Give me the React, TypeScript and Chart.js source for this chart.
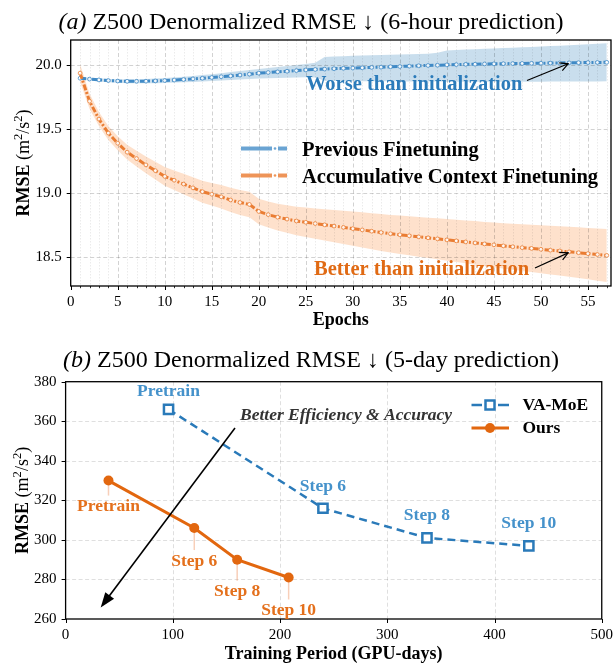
import React, { useEffect, useRef } from "react";
import { Chart, registerables } from "chart.js";

Chart.register(...registerables);

const SERIF = "'Liberation Serif', 'Times New Roman', Times, serif";

// ---------- (a) Z500 6-hour prediction: RMSE per finetuning epoch ----------
const EPOCHS = [
  1, 2, 3, 4, 5, 6, 7, 8, 9, 10, 11, 12, 13, 14, 15, 16, 17, 18, 19, 20,
  21, 22, 23, 24, 25, 26, 27, 28, 29, 30, 31, 32, 33, 34, 35, 36, 37, 38, 39, 40,
  41, 42, 43, 44, 45, 46, 47, 48, 49, 50, 51, 52, 53, 54, 55, 56, 57,
];

const PREV_MEAN = [
  19.9, 19.893, 19.887, 19.882, 19.878, 19.876, 19.876, 19.877, 19.879, 19.882,
  19.886, 19.89, 19.895, 19.9, 19.906, 19.912, 19.918, 19.925, 19.932, 19.94,
  19.945, 19.95, 19.955, 19.96, 19.965, 19.969, 19.972, 19.975, 19.978, 19.98,
  19.982, 19.985, 19.987, 19.99, 19.992, 19.995, 19.998, 20.0, 20.002, 20.005,
  20.007, 20.009, 20.01, 20.012, 20.013, 20.014, 20.015, 20.016, 20.017, 20.018,
  20.019, 20.02, 20.021, 20.022, 20.023, 20.024, 20.025,
];

const PREV_UPPER = [
  19.91, 19.904, 19.899, 19.895, 19.892, 19.891, 19.892, 19.894, 19.897, 19.901,
  19.906, 19.912, 19.918, 19.925, 19.932, 19.94, 19.948, 19.956, 19.964, 19.972,
  19.98, 19.988, 19.996, 20.004, 20.012, 20.022, 20.066, 20.07, 20.073, 20.076,
  20.078, 20.08, 20.082, 20.084, 20.086, 20.088, 20.09, 20.093, 20.1, 20.118,
  20.122, 20.125, 20.128, 20.131, 20.134, 20.137, 20.14, 20.143, 20.146, 20.149,
  20.152, 20.155, 20.158, 20.162, 20.166, 20.17, 20.174,
];

const PREV_LOWER = [
  19.89, 19.882, 19.875, 19.869, 19.864, 19.861, 19.86, 19.86, 19.861, 19.863,
  19.866, 19.868, 19.871, 19.874, 19.878, 19.882, 19.886, 19.89, 19.894, 19.898,
  19.9, 19.902, 19.904, 19.906, 19.908, 19.906, 19.88, 19.879, 19.878, 19.877,
  19.877, 19.876, 19.876, 19.876, 19.875, 19.875, 19.875, 19.875, 19.874, 19.872,
  19.872, 19.872, 19.872, 19.872, 19.872, 19.872, 19.873, 19.873, 19.873, 19.873,
  19.874, 19.874, 19.874, 19.875, 19.875, 19.875, 19.876,
];

const ACC_MEAN = [
  19.94, 19.72, 19.58, 19.47, 19.39, 19.32, 19.27, 19.22, 19.175, 19.13,
  19.1, 19.07, 19.04, 19.01, 18.99, 18.97, 18.945, 18.925, 18.91, 18.855,
  18.83, 18.81, 18.795, 18.78, 18.77, 18.76, 18.75, 18.74, 18.73, 18.72,
  18.71, 18.7, 18.69, 18.68, 18.672, 18.664, 18.656, 18.648, 18.64, 18.632,
  18.624, 18.616, 18.608, 18.6, 18.593, 18.585, 18.578, 18.571, 18.565, 18.558,
  18.551, 18.545, 18.538, 18.531, 18.524, 18.517, 18.51,
];

const ACC_SPREAD = [
  0.07, 0.06, 0.055, 0.055, 0.055, 0.058, 0.062, 0.066, 0.07, 0.074,
  0.077, 0.08, 0.083, 0.086, 0.089, 0.092, 0.095, 0.098, 0.1, 0.1,
  0.102, 0.105, 0.108, 0.111, 0.115, 0.119, 0.123, 0.127, 0.131, 0.134,
  0.138, 0.141, 0.145, 0.148, 0.151, 0.153, 0.156, 0.158, 0.161, 0.163,
  0.166, 0.168, 0.171, 0.173, 0.176, 0.178, 0.181, 0.183, 0.186, 0.188,
  0.191, 0.193, 0.196, 0.199, 0.202, 0.205, 0.208,
];

const TOP_X_TICKS = [0, 5, 10, 15, 20, 25, 30, 35, 40, 45, 50, 55];
const TOP_Y_TICKS = [18.5, 19.0, 19.5, 20.0];
const TOP_SERIES = ["Previous Finetuning", "Accumulative Context Finetuning"];

// ---------- (b) Z500 5-day prediction vs. training cost ----------
const STAGES = ["Pretrain", "Step 6", "Step 8", "Step 10"];
const VAMOE_GPU_DAYS = [96, 240, 337, 432];
const VAMOE_RMSE = [366, 316, 301, 297];
const OURS_GPU_DAYS = [40, 120, 160, 208];
const OURS_RMSE = [330, 306, 290, 281];
const BOTTOM_X_TICKS = [0, 100, 200, 300, 400, 500];
const BOTTOM_Y_TICKS = [260, 280, 300, 320, 340, 360, 380];
const BOTTOM_SERIES = ["VA-MoE", "Ours"];

// ---------- colours ----------
const BLUE_LINE = "#408ac6";
const BLUE_BAND = "rgba(31,119,180,0.24)";
const ORANGE_LINE = "#ea7d33";
const ORANGE_BAND = "rgba(250,130,40,0.24)";
const BLUE_TEXT = "#2b7bba";
const ORANGE_TEXT = "#e06a14";
const VAMOE_COLOR = "#2a7ab9";
const VAMOE_LABEL = "#4592cb";
const OURS_COLOR = "#e2670f";
const OURS_LABEL = "#e4701c";

type Ctx = CanvasRenderingContext2D;

function fnt(size: number, weight = "normal", style = "normal") {
  return `${style} ${weight} ${size}px ${SERIF}`;
}

function seg(ctx: Ctx, x1: number, y1: number, x2: number, y2: number) {
  ctx.beginPath();
  ctx.moveTo(x1, y1);
  ctx.lineTo(x2, y2);
  ctx.stroke();
}

function openArrow(ctx: Ctx, x1: number, y1: number, x2: number, y2: number, head = 9) {
  seg(ctx, x1, y1, x2, y2);
  const ang = Math.atan2(y2 - y1, x2 - x1);
  const a = Math.PI / 6.5;
  ctx.beginPath();
  ctx.moveTo(x2 - head * Math.cos(ang - a), y2 - head * Math.sin(ang - a));
  ctx.lineTo(x2, y2);
  ctx.lineTo(x2 - head * Math.cos(ang + a), y2 - head * Math.sin(ang + a));
  ctx.stroke();
}

function filledArrow(ctx: Ctx, x1: number, y1: number, x2: number, y2: number, len: number, half: number) {
  const ang = Math.atan2(y2 - y1, x2 - x1);
  const bx = x2 - len * Math.cos(ang);
  const by = y2 - len * Math.sin(ang);
  seg(ctx, x1, y1, bx + 2 * Math.cos(ang), by + 2 * Math.sin(ang));
  ctx.beginPath();
  ctx.moveTo(x2, y2);
  ctx.lineTo(bx - half * Math.sin(ang), by + half * Math.cos(ang));
  ctx.lineTo(bx + half * Math.sin(ang), by - half * Math.cos(ang));
  ctx.closePath();
  ctx.fill();
}

function drawTitle(ctx: Ctx, tag: string, rest: string, cx: number, baseline: number) {
  const size = 24;
  ctx.save();
  ctx.fillStyle = "#000";
  ctx.textBaseline = "alphabetic";
  ctx.textAlign = "left";
  ctx.font = fnt(size, "normal", "italic");
  const w1 = ctx.measureText(tag).width;
  ctx.font = fnt(size);
  const w2 = ctx.measureText(rest).width;
  const x0 = cx - (w1 + w2) / 2;
  ctx.font = fnt(size, "normal", "italic");
  ctx.fillText(tag, x0, baseline);
  ctx.font = fnt(size);
  ctx.fillText(rest, x0 + w1, baseline);
  ctx.restore();
}

function drawRmseLabel(ctx: Ctx, cx: number, cy: number, size: number) {
  const parts = [
    { t: "RMSE", f: fnt(size, "bold"), dy: 0 },
    { t: " (m", f: fnt(size), dy: 0 },
    { t: "2", f: fnt(size * 0.7), dy: -size * 0.38 },
    { t: "/s", f: fnt(size), dy: 0 },
    { t: "2", f: fnt(size * 0.7), dy: -size * 0.38 },
    { t: ")", f: fnt(size), dy: 0 },
  ];
  ctx.save();
  let total = 0;
  const widths = parts.map((p) => {
    ctx.font = p.f;
    const w = ctx.measureText(p.t).width;
    total += w;
    return w;
  });
  ctx.translate(cx, cy);
  ctx.rotate(-Math.PI / 2);
  ctx.fillStyle = "#000";
  ctx.textBaseline = "alphabetic";
  ctx.textAlign = "left";
  let x = -total / 2;
  parts.forEach((p, i) => {
    ctx.font = p.f;
    ctx.fillText(p.t, x, size * 0.33 + p.dy);
    x += widths[i];
  });
  ctx.restore();
}

function drawBox(chart: Chart) {
  const { ctx, chartArea: a } = chart;
  ctx.save();
  ctx.strokeStyle = "#000";
  ctx.lineWidth = 1.3;
  ctx.setLineDash([]);
  ctx.strokeRect(a.left, a.top, a.right - a.left, a.bottom - a.top);
  ctx.restore();
}

function drawMajorTicks(chart: Chart, xs: number[], ys: number[]) {
  const { ctx, chartArea: a, scales } = chart;
  ctx.save();
  ctx.strokeStyle = "#000";
  ctx.lineWidth = 1;
  ctx.setLineDash([]);
  xs.forEach((v) => {
    const px = Math.round(scales.x.getPixelForValue(v)) + 0.5;
    seg(ctx, px, a.bottom, px, a.bottom + 4);
  });
  ys.forEach((v) => {
    const py = Math.round(scales.y.getPixelForValue(v)) + 0.5;
    seg(ctx, a.left - 4, py, a.left, py);
  });
  ctx.restore();
}

function drawGrid(chart: Chart, xs: number[], ys: number[], color: string) {
  const { ctx, chartArea: a, scales } = chart;
  ctx.save();
  ctx.strokeStyle = color;
  ctx.lineWidth = 0.9;
  ctx.setLineDash([4, 2.5]);
  xs.forEach((v) => {
    const px = Math.round(scales.x.getPixelForValue(v)) + 0.5;
    if (px > a.left + 1 && px < a.right - 1) seg(ctx, px, a.top, px, a.bottom);
  });
  ys.forEach((v) => {
    const py = Math.round(scales.y.getPixelForValue(v)) + 0.5;
    if (py > a.top + 1 && py < a.bottom - 1) seg(ctx, a.left, py, a.right, py);
  });
  ctx.restore();
}

const tickFont = { family: SERIF, size: 15 };

// ---------- panel (a) decorations ----------
const panelA = {
  id: "panelA",
  beforeDatasetsDraw(chart: Chart) {
    const { ctx, chartArea: a, scales } = chart;
    ctx.save();
    ctx.strokeStyle = "rgba(0,0,0,0.1)";
    ctx.lineWidth = 0.8;
    ctx.setLineDash([1.5, 1.5]);
    EPOCHS.forEach((e) => {
      if (TOP_X_TICKS.includes(e)) return;
      const px = Math.round(scales.x.getPixelForValue(e)) + 0.5;
      seg(ctx, px, a.top, px, a.bottom);
    });
    ctx.restore();
    drawGrid(chart, TOP_X_TICKS, TOP_Y_TICKS, "rgba(0,0,0,0.2)");
  },
  afterDraw(chart: Chart) {
    const { ctx, chartArea: a, scales } = chart;
    drawBox(chart);
    drawMajorTicks(chart, TOP_X_TICKS, TOP_Y_TICKS);
    // minor ticks at every epoch
    ctx.save();
    ctx.strokeStyle = "#000";
    ctx.lineWidth = 0.8;
    EPOCHS.forEach((e) => {
      if (TOP_X_TICKS.includes(e)) return;
      const px = Math.round(scales.x.getPixelForValue(e)) + 0.5;
      seg(ctx, px, a.bottom, px, a.bottom + 2.2);
    });
    ctx.restore();

    drawTitle(ctx, "(a)", " Z500 Denormalized RMSE \u2193 (6-hour prediction)", 311, 28.5);
    drawRmseLabel(ctx, 23, (a.top + a.bottom) / 2, 18);

    ctx.save();
    ctx.fillStyle = "#000";
    ctx.font = fnt(18, "bold");
    ctx.textAlign = "center";
    ctx.textBaseline = "alphabetic";
    ctx.fillText("Epochs", (a.left + a.right) / 2, 325);

    // legend
    const rows = [
      { y: 148.5, color: "rgba(64,138,198,0.78)", text: TOP_SERIES[0] },
      { y: 175.5, color: "rgba(234,125,51,0.82)", text: TOP_SERIES[1] },
    ];
    rows.forEach((r) => {
      ctx.strokeStyle = r.color;
      ctx.lineWidth = 4;
      ctx.setLineDash([]);
      seg(ctx, 241, r.y, 272, r.y);
      seg(ctx, 278, r.y, 287, r.y);
      ctx.fillStyle = r.color;
      ctx.beginPath();
      ctx.arc(275, r.y, 1.3, 0, Math.PI * 2);
      ctx.fill();
      ctx.fillStyle = "#000";
      ctx.font = fnt(20.5, "bold");
      ctx.textAlign = "left";
      ctx.fillText(r.text, 302, r.y + 7);
    });

    // annotations anchored at epoch 53
    const tipX = scales.x.getPixelForValue(EPOCHS[52]);
    const blueTipY = scales.y.getPixelForValue(PREV_MEAN[52]) + 1;
    const orangeTipY = scales.y.getPixelForValue(ACC_MEAN[52]) + 1;

    ctx.font = fnt(20.5, "bold");
    ctx.textAlign = "left";
    ctx.fillStyle = BLUE_TEXT;
    ctx.fillText("Worse than initialization", 306, 89.5);
    ctx.fillStyle = ORANGE_TEXT;
    ctx.fillText("Better than initialization", 314, 275);

    ctx.strokeStyle = "#000";
    ctx.lineWidth = 1.2;
    openArrow(ctx, 527, 80.5, tipX - 1, blueTipY, 9);
    openArrow(ctx, 535, 268, tipX - 1, orangeTipY, 9);
    ctx.restore();
  },
};

// ---------- panel (b) decorations ----------
const BLUE_LABEL_DY = [-18, -22, -22, -22];
const ORANGE_LABEL_DY = [26, 33, 32, 33];

const panelB = {
  id: "panelB",
  beforeDatasetsDraw(chart: Chart) {
    const { ctx, scales } = chart;
    drawGrid(chart, BOTTOM_X_TICKS, BOTTOM_Y_TICKS, "rgba(0,0,0,0.14)");
    // connectors from our points down to their stage labels
    ctx.save();
    ctx.strokeStyle = "rgba(236,130,70,0.38)";
    ctx.lineWidth = 1.5;
    OURS_GPU_DAYS.forEach((d, i) => {
      const px = scales.x.getPixelForValue(d);
      const py = scales.y.getPixelForValue(OURS_RMSE[i]);
      seg(ctx, px, py, px, py + ORANGE_LABEL_DY[i] - 11);
    });
    ctx.restore();
  },
  afterDraw(chart: Chart) {
    const { ctx, chartArea: a, scales } = chart;
    drawBox(chart);
    drawMajorTicks(chart, BOTTOM_X_TICKS, BOTTOM_Y_TICKS);
    drawTitle(ctx, "(b)", " Z500 Denormalized RMSE \u2193 (5-day prediction)", 311, 37);
    drawRmseLabel(ctx, 22, (a.top + a.bottom) / 2, 18);

    ctx.save();
    ctx.fillStyle = "#000";
    ctx.font = fnt(18, "bold");
    ctx.textAlign = "center";
    ctx.textBaseline = "alphabetic";
    ctx.fillText("Training Period (GPU-days)", (a.left + a.right) / 2, 329);

    // stage labels
    ctx.font = fnt(17.5, "bold");
    ctx.textBaseline = "middle";
    STAGES.forEach((s, i) => {
      const bx = scales.x.getPixelForValue(VAMOE_GPU_DAYS[i]);
      const by = scales.y.getPixelForValue(VAMOE_RMSE[i]);
      ctx.fillStyle = VAMOE_LABEL;
      ctx.fillText(s, bx, by + BLUE_LABEL_DY[i]);
      const ox = scales.x.getPixelForValue(OURS_GPU_DAYS[i]);
      const oy = scales.y.getPixelForValue(OURS_RMSE[i]);
      ctx.fillStyle = OURS_LABEL;
      ctx.fillText(s, ox, oy + ORANGE_LABEL_DY[i]);
    });

    // trend arrow
    ctx.strokeStyle = "#000";
    ctx.fillStyle = "#000";
    ctx.lineWidth = 1.6;
    filledArrow(ctx, 235, 98, 100.7, 277.5, 15, 5.5);
    ctx.fillStyle = "#333";
    ctx.font = fnt(17.5, "bold", "italic");
    ctx.textAlign = "left";
    ctx.textBaseline = "alphabetic";
    ctx.fillText("Better Efficiency & Accuracy", 240, 89.5);

    // legend
    const ly = [75, 98];
    ctx.lineWidth = 2.5;
    ctx.strokeStyle = VAMOE_COLOR;
    seg(ctx, 471.5, ly[0], 482, ly[0]);
    seg(ctx, 498, ly[0], 509, ly[0]);
    ctx.fillStyle = "#fff";
    ctx.fillRect(485.5, ly[0] - 4.5, 9, 9);
    ctx.strokeRect(485.5, ly[0] - 4.5, 9, 9);
    ctx.strokeStyle = OURS_COLOR;
    ctx.lineWidth = 3;
    seg(ctx, 471.5, ly[1], 509, ly[1]);
    ctx.fillStyle = OURS_COLOR;
    ctx.beginPath();
    ctx.arc(490, ly[1], 5, 0, Math.PI * 2);
    ctx.fill();
    ctx.fillStyle = "#000";
    ctx.font = fnt(17.5, "bold");
    ctx.textBaseline = "middle";
    ctx.fillText(BOTTOM_SERIES[0], 522.5, ly[0]);
    ctx.fillText(BOTTOM_SERIES[1], 522.5, ly[1]);
    ctx.restore();
  },
};

function pts(xs: number[], ys: number[]) {
  return ys.map((y, i) => ({ x: xs[i], y }));
}

function topConfig(): any {
  const accUpper = ACC_MEAN.map((m, i) => m + ACC_SPREAD[i]);
  const accLower = ACC_MEAN.map((m, i) => m - ACC_SPREAD[i]);
  const band = (vals: number[], fill: any, color: string) => ({
    data: pts(EPOCHS, vals),
    borderWidth: 0,
    borderColor: "rgba(0,0,0,0)",
    pointRadius: 0,
    fill,
    backgroundColor: color,
    order: 5,
  });
  const line = (label: string, vals: number[], color: string, order: number) => ({
    label,
    data: pts(EPOCHS, vals),
    borderColor: color,
    borderWidth: 3,
    borderDash: [6, 2, 2, 2],
    pointRadius: 1.9,
    pointBackgroundColor: "rgba(255,255,255,0.9)",
    pointBorderColor: color,
    pointBorderWidth: 0.8,
    fill: false,
    tension: 0,
    order,
  });
  return {
    type: "line",
    data: {
      datasets: [
        band(PREV_UPPER, "+1", BLUE_BAND),
        band(PREV_LOWER, false, BLUE_BAND),
        band(accUpper, "+1", ORANGE_BAND),
        band(accLower, false, ORANGE_BAND),
        line(TOP_SERIES[0], PREV_MEAN, BLUE_LINE, 1),
        line(TOP_SERIES[1], ACC_MEAN, ORANGE_LINE, 0),
      ],
    },
    options: {
      responsive: false,
      animation: false,
      events: [],
      layout: { padding: { top: 40, right: 5, left: 0, bottom: 0 } },
      plugins: {
        legend: { display: false },
        tooltip: { enabled: false },
        title: { display: false },
        filler: { drawTime: "beforeDatasetsDraw" },
      },
      scales: {
        x: {
          type: "linear",
          min: 0,
          max: 57.45,
          afterBuildTicks: (s: any) => {
            s.ticks = TOP_X_TICKS.map((value) => ({ value }));
          },
          afterFit: (s: any) => {
            s.height = 44;
          },
          ticks: { font: tickFont, color: "#000", padding: 3, maxRotation: 0, autoSkip: false, callback: (v: any) => String(v) },
          grid: { display: false, drawTicks: true, tickLength: 4 },
          border: { display: false },
        },
        y: {
          type: "linear",
          min: 18.27,
          max: 20.2,
          afterBuildTicks: (s: any) => {
            s.ticks = TOP_Y_TICKS.map((value) => ({ value }));
          },
          afterFit: (s: any) => {
            s.width = 70.7;
          },
          ticks: { font: tickFont, color: "#000", padding: 5, callback: (v: any) => Number(v).toFixed(1) },
          grid: { display: false, drawTicks: true, tickLength: 4 },
          border: { display: false },
        },
      },
    },
    plugins: [panelA],
  };
}

function bottomConfig(): any {
  return {
    type: "line",
    data: {
      datasets: [
        {
          label: BOTTOM_SERIES[0],
          data: pts(VAMOE_GPU_DAYS, VAMOE_RMSE),
          borderColor: VAMOE_COLOR,
          borderWidth: 2.5,
          borderDash: [8, 5],
          pointStyle: "rect",
          pointRadius: 6.5,
          pointBorderWidth: 2.5,
          pointBackgroundColor: "#fff",
          pointBorderColor: VAMOE_COLOR,
          fill: false,
          tension: 0,
        },
        {
          label: BOTTOM_SERIES[1],
          data: pts(OURS_GPU_DAYS, OURS_RMSE),
          borderColor: OURS_COLOR,
          borderWidth: 3,
          pointStyle: "circle",
          pointRadius: 5,
          pointBorderWidth: 0,
          pointBackgroundColor: OURS_COLOR,
          pointBorderColor: OURS_COLOR,
          fill: false,
          tension: 0,
        },
      ],
    },
    options: {
      responsive: false,
      animation: false,
      events: [],
      layout: { padding: { top: 51.7, right: 12, left: 0, bottom: 0 } },
      plugins: {
        legend: { display: false },
        tooltip: { enabled: false },
        title: { display: false },
      },
      scales: {
        x: {
          type: "linear",
          min: 0,
          max: 500,
          afterBuildTicks: (s: any) => {
            s.ticks = BOTTOM_X_TICKS.map((value) => ({ value }));
          },
          afterFit: (s: any) => {
            s.height = 44;
          },
          ticks: { font: tickFont, color: "#000", padding: 3, maxRotation: 0, autoSkip: false, callback: (v: any) => String(v) },
          grid: { display: false, drawTicks: true, tickLength: 4 },
          border: { display: false },
        },
        y: {
          type: "linear",
          min: 260,
          max: 380,
          afterBuildTicks: (s: any) => {
            s.ticks = BOTTOM_Y_TICKS.map((value) => ({ value }));
          },
          afterFit: (s: any) => {
            s.width = 65.6;
          },
          ticks: { font: tickFont, color: "#000", padding: 5, callback: (v: any) => String(v) },
          grid: { display: false, drawTicks: true, tickLength: 4 },
          border: { display: false },
        },
      },
    },
    plugins: [panelB],
  };
}

export default function App() {
  const topRef = useRef<HTMLCanvasElement>(null);
  const bottomRef = useRef<HTMLCanvasElement>(null);

  useEffect(() => {
    const top = new Chart(topRef.current as HTMLCanvasElement, topConfig());
    const bottom = new Chart(bottomRef.current as HTMLCanvasElement, bottomConfig());
    return () => {
      top.destroy();
      bottom.destroy();
    };
  }, []);

  return (
    <div style={{ position: "fixed", left: 0, top: 0, width: 616, height: 663, background: "#fff" }}>
      <canvas
        ref={topRef}
        width={616}
        height={330}
        style={{ position: "absolute", left: 0, top: 0, width: 616, height: 330 }}
      />
      <canvas
        ref={bottomRef}
        width={616}
        height={333}
        style={{ position: "absolute", left: 0, top: 330, width: 616, height: 333 }}
      />
    </div>
  );
}
